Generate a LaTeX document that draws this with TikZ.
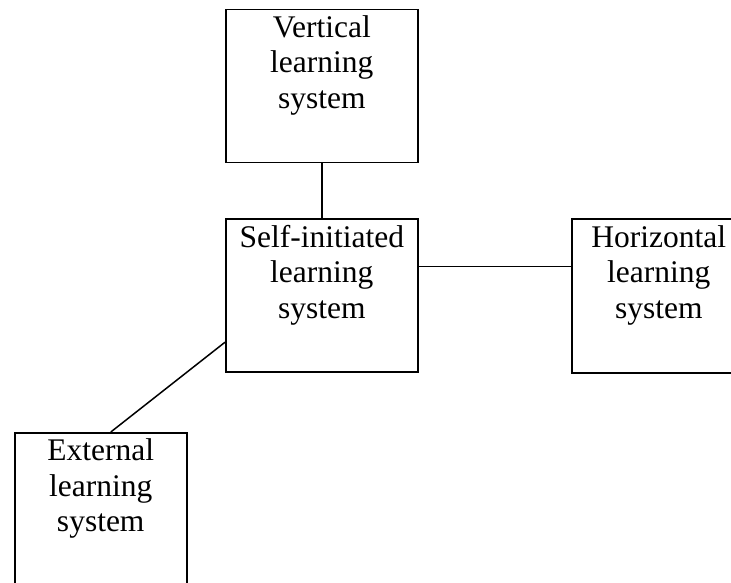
\documentclass[tikz,border=0pt]{standalone}
\usepackage{fontspec}
\setmainfont{Liberation Serif}
\usetikzlibrary{calc}
\begin{document}
\begin{tikzpicture}[x=1pt,y=-1pt,
  box/.style={draw=black,line width=1.5pt,rectangle,inner sep=0pt,anchor=north west},
  txt/.style={align=center,inner sep=0pt,anchor=north,font=\fontsize{31.5}{35.5}\selectfont},
  link/.style={draw=black,line width=1.5pt}]
\useasboundingbox (0,0) rectangle (731,583);
\clip (0,0) rectangle (731,583);
\node[box,minimum width=192pt,minimum height=153pt] (v) at (225,9) {};
\node[box,minimum width=192pt,minimum height=153pt] (s) at (225,218) {};
\node[box,minimum width=174pt,minimum height=154pt] (h) at (571,218) {};
\node[box,minimum width=172pt,minimum height=154pt] (e) at (14,432) {};
\node[txt] (vt) at ($(v.north)+(0,6)$) {Vertical\\learning\\system};
\node[txt] (st) at ($(s.north)+(0,7)$) {Self-initiated\\learning\\system};
\node[txt] (ht) at ($(h.north)+(0,7)$) {Horizontal\\learning\\system};
\node[txt] (et) at ($(e.north)+(0,6.5)$) {External\\learning\\system};
\draw[link] (v.south) -- (s.north);
\coordinate (a) at ($(s.north east)!0.314!(s.south east)$);
\draw[link] (a) -- (a -| h.west);
\coordinate (b) at ($(s.north west)!0.804!(s.south west)$);
\coordinate (c) at ($(e.north west)!0.558!(e.north east)$);
\draw[link] (b) -- (c);
\end{tikzpicture}
\end{document}
